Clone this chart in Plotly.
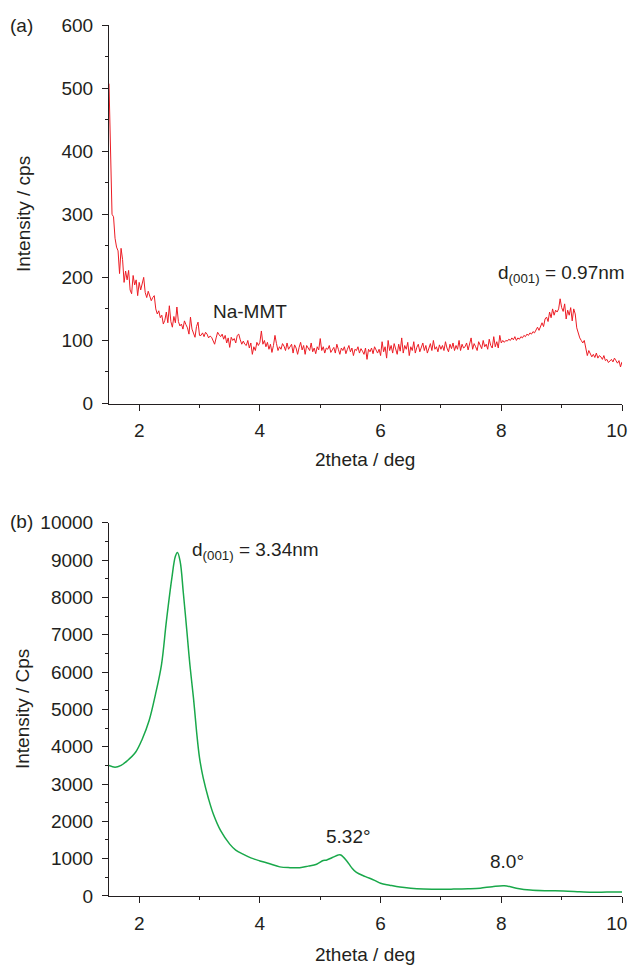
import plotly.graph_objects as go

# ---------------- data ----------------
# (a) Na-MMT, 2theta grid 1.5 .. 10.0 step 0.025
x_start_a = 1.5
x_step_a = 0.025
na_mmt_rows = [
    [507, 380, 300, 296, 262, 248, 242, 206, 246, 228],   # 1.50
    [192, 210, 196, 211, 180, 174, 203, 188, 196, 171],   # 1.75
    [192, 180, 188, 200, 176, 168, 178, 170, 163, 168],   # 2.00
    [171, 150, 142, 147, 136, 140, 126, 132, 145, 128],   # 2.25
    [155, 130, 121, 138, 128, 153, 130, 123, 126, 118],   # 2.50
    [131, 125, 120, 110, 137, 118, 112, 105, 122, 129],   # 2.75
    [108, 108, 112, 106, 113, 110, 104, 107, 105, 99],    # 3.00
    [94, 104, 113, 109, 106, 110, 102, 108, 96, 104],     # 3.25
    [89, 105, 100, 103, 96, 108, 110, 101, 94, 99],       # 3.50
    [94, 92, 100, 88, 96, 78, 90, 84, 97, 92],            # 3.75
    [97, 115, 94, 100, 90, 97, 86, 94, 81, 92],           # 4.00
    [108, 95, 84, 90, 86, 95, 91, 84, 96, 86],            # 4.25
    [90, 94, 80, 93, 88, 78, 89, 97, 85, 92],             # 4.50
    [78, 92, 88, 84, 96, 82, 88, 79, 90, 85],             # 4.75
    [103, 84, 90, 80, 88, 86, 92, 81, 85, 89],            # 5.00
    [80, 94, 86, 78, 88, 84, 90, 79, 86, 92],             # 5.25
    [82, 88, 76, 86, 84, 90, 80, 87, 83, 78],             # 5.50
    [88, 70, 86, 82, 88, 79, 90, 84, 80, 86],             # 5.75
    [76, 98, 82, 90, 72, 100, 84, 92, 80, 95],            # 6.00
    [86, 78, 94, 83, 104, 80, 92, 86, 97, 76],            # 6.25
    [90, 84, 98, 80, 89, 94, 82, 88, 96, 84],             # 6.50
    [92, 80, 88, 95, 84, 100, 86, 90, 82, 93],            # 6.75
    [86, 92, 84, 98, 88, 82, 94, 87, 96, 84],             # 7.00
    [92, 86, 100, 84, 94, 88, 90, 96, 85, 93],            # 7.25
    [104, 86, 95, 90, 84, 98, 92, 87, 100, 90],           # 7.50
    [94, 86, 102, 92, 88, 106, 90, 98, 88, 108],          # 7.75
    [96, 100, 97, 100, 99, 102, 100, 104, 101, 106],      # 8.00
    [100, 104, 102, 106, 104, 108, 106, 110, 108, 112],   # 8.25
    [110, 114, 112, 118, 121, 116, 124, 128, 122, 134],   # 8.50
    [137, 130, 145, 136, 150, 140, 148, 145, 150, 166],   # 8.75
    [152, 146, 158, 134, 148, 140, 152, 131, 150, 142],   # 9.00
    [120, 110, 104, 100, 96, 100, 86, 76, 84, 80],        # 9.25
    [74, 78, 73, 80, 72, 76, 74, 70, 76, 68],             # 9.50
    [70, 65, 68, 70, 66, 72, 68, 64, 68, 58],             # 9.75
    [66],                                                 # 10.00
]
na_mmt_vals = [v for row in na_mmt_rows for v in row]
na_mmt_x = [round(x_start_a + i * x_step_a, 3) for i in range(len(na_mmt_vals))]

# (b) modified clay
clay_x = [1.5, 1.6, 1.7, 1.8, 1.94, 2.05, 2.165, 2.27, 2.37, 2.45, 2.54, 2.6, 2.635,
          2.68, 2.73, 2.79, 2.84, 2.9, 2.95, 3.0, 3.06, 3.15, 3.23, 3.35, 3.5, 3.6,
          3.72, 3.85, 4.0, 4.15, 4.33, 4.5, 4.66, 4.8, 4.94, 5.05, 5.1, 5.2, 5.3,
          5.34, 5.44, 5.52, 5.6, 5.75, 5.9, 6.0, 6.15, 6.32, 6.5, 6.71, 7.0, 7.21,
          7.45, 7.65, 7.85, 8.05, 8.25, 8.48, 8.75, 9.03, 9.3, 9.53, 9.75, 10.0]
clay_y = [3500, 3450, 3500, 3620, 3850, 4200, 4700, 5400, 6200, 7350, 8500, 9100, 9200,
          8950, 8150, 7100, 6200, 5300, 4420, 3700, 3170, 2600, 2190, 1750, 1390, 1230,
          1120, 1020, 940, 870, 780, 760, 760, 800, 850, 950, 960, 1030, 1100,
          1100, 940, 760, 630, 520, 420, 340, 290, 240, 210, 190, 180, 185,
          195, 210, 250, 275, 210, 160, 140, 135, 115, 100, 105, 105]

x_ticks = [2, 4, 6, 8, 10]
x_tick_text = ["2", "4", "6", "8", "10\u2007"]
ya_ticks = [0, 100, 200, 300, 400, 500, 600]
yb_ticks = [0, 1000, 2000, 3000, 4000, 5000, 6000, 7000, 8000, 9000, 10000]

# ---------------- figure ----------------
FONT = "Liberation Sans, Arial, sans-serif"
TXT = "#231f20"
FS = 19
fig = go.Figure()
fig.add_trace(go.Scatter(x=na_mmt_x, y=na_mmt_vals, mode="lines",
                         line=dict(color="#ec1c24", width=1), xaxis="x", yaxis="y",
                         showlegend=False))
fig.add_trace(go.Scatter(x=clay_x, y=clay_y, mode="lines", line_shape="spline",
                         line=dict(color="#19a84a", width=1.5), xaxis="x2", yaxis="y2",
                         showlegend=False))

axis_common = dict(showgrid=False, zeroline=False, showline=True, linecolor="#231f20",
                   linewidth=1, ticks="outside", ticklen=6, tickcolor="#231f20",
                   automargin=False, ticklabeloverflow="allow",
                   tickfont=dict(family=FONT, size=FS, color=TXT))
minor_x = dict(ticks="outside", ticklen=3, dtick=1, tickcolor="#231f20", showgrid=False)

fig.update_layout(
    width=629, height=965,
    margin=dict(l=109, r=7, t=25, b=69),
    paper_bgcolor="white", plot_bgcolor="white",
    xaxis=dict(domain=[0, 1], anchor="y", range=[1.5, 10], tickvals=x_ticks,
               ticktext=x_tick_text, ticklabelstandoff=4, minor=minor_x, **axis_common),
    yaxis=dict(domain=[0.5654, 1.0], anchor="x", range=[0, 600], tickvals=ya_ticks,
               ticktext=[str(v) for v in ya_ticks], ticklabelstandoff=5,
               minor=dict(ticks="outside", ticklen=3, dtick=50, tickcolor="#231f20", showgrid=False),
               **axis_common),
    xaxis2=dict(domain=[0, 1], anchor="y2", range=[1.5, 10], tickvals=x_ticks,
                ticktext=x_tick_text, ticklabelstandoff=4, minor=minor_x, **axis_common),
    yaxis2=dict(domain=[0, 0.4286], anchor="x2", range=[0, 10000], tickvals=yb_ticks,
                ticktext=[str(v) for v in yb_ticks], ticklabelstandoff=5,
                minor=dict(ticks="outside", ticklen=3, dtick=500, tickcolor="#231f20", showgrid=False),
                **axis_common),
)

def ann(text, x, y, xref="paper", yref="paper", angle=0, xanchor="center", xshift=0):
    fig.add_annotation(text=text, x=x, y=y, xref=xref, yref=yref, showarrow=False,
                       textangle=angle, xanchor=xanchor, yanchor="middle", xshift=xshift,
                       font=dict(family=FONT, size=FS, color=TXT))

ann("(a)", -0.1696, 1.0)
ann("(b)", -0.1696, 0.4294)
ann("Intensity / cps", -0.1676, 0.783, angle=-90)
ann("Intensity / Cps", -0.1676, 0.2147, angle=-90)
ann("2theta / deg", 0.499, 0.5017)
ann("2theta / deg", 0.499, -0.0677)
ann("Na-MMT", 3.83, 146, "x", "y")
ann("d<sub>(001)</sub> = 0.97nm", 10.0, 206, "x", "y", xanchor="right", xshift=5)
ann("d<sub>(001)</sub> = 3.34nm", 2.84, 9250, "x2", "y2", xanchor="left")
ann("5.32°", 5.465, 1607, "x2", "y2")
ann("8.0°", 8.09, 937, "x2", "y2")

fig.write_html("out.html", config={"displayModeBar": False},
               post_script="document.body.style.margin='0';")
